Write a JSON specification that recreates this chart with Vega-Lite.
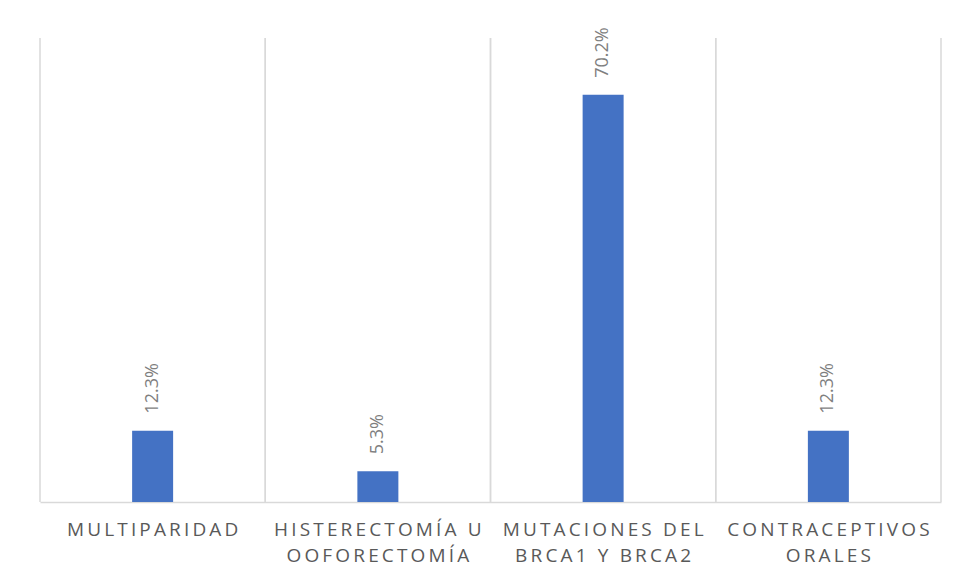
{
  "$schema": "https://vega.github.io/schema/vega-lite/v6.json",
  "width": 901,
  "height": 464,
  "autosize": "none",
  "padding": {"left": 40, "top": 38, "right": 17, "bottom": 80},
  "background": "white",
  "config": {"view": {"stroke": null}, "font": "Open Sans"},
  "data": {
    "values": [
      {"factor": "MULTIPARIDAD", "share": 0.123},
      {"factor": "HISTERECTOMÍA U\nOOFORECTOMÍA", "share": 0.053},
      {"factor": "MUTACIONES DEL\nBRCA1 Y BRCA2", "share": 0.702},
      {"factor": "CONTRACEPTIVOS\nORALES", "share": 0.123}
    ]
  },
  "encoding": {
    "x": {
      "field": "factor",
      "type": "nominal",
      "sort": null,
      "scale": {"paddingInner": 0, "paddingOuter": 0},
      "axis": {
        "title": null,
        "labelAngle": 0,
        "labelExpr": "split(replace(datum.label, regexp('([^\\\\n])(?=[^\\\\n])', 'g'), '$1\u2009'), '\\n')",
        "labelFont": "Open Sans",
        "labelFontSize": 19,
        "labelColor": "#595959",
        "labelPadding": 18,
        "labelLimit": 0,
        "labelLineHeight": 26,
        "labelOverlap": false,
        "labelBaseline": "top",
        "ticks": false,
        "grid": false,
        "domainColor": "#d9d9d9",
        "domainWidth": 1.5
      }
    }
  },
  "layer": [
    {
      "mark": {"type": "rule", "color": "#d9d9d9", "strokeWidth": 1.5},
      "encoding": {"x": {"field": "factor", "type": "nominal", "sort": null, "bandPosition": 0}}
    },
    {
      "mark": {"type": "rule", "color": "#d9d9d9", "strokeWidth": 1.5},
      "encoding": {"x": {"field": "factor", "type": "nominal", "sort": null, "bandPosition": 1}}
    },
    {
      "mark": {"type": "bar", "color": "#4472C4", "width": {"band": 0.182}},
      "encoding": {
        "y": {"field": "share", "type": "quantitative", "scale": {"domain": [0, 0.8]}, "axis": null}
      }
    },
    {
      "mark": {
        "type": "text",
        "angle": 270,
        "align": "left",
        "baseline": "middle",
        "dx": 17,
        "fontSize": 18,
        "color": "#7f7f7f"
      },
      "encoding": {
        "y": {"field": "share", "type": "quantitative", "scale": {"domain": [0, 0.8]}},
        "text": {"field": "share", "format": ".1%"}
      }
    }
  ]
}
